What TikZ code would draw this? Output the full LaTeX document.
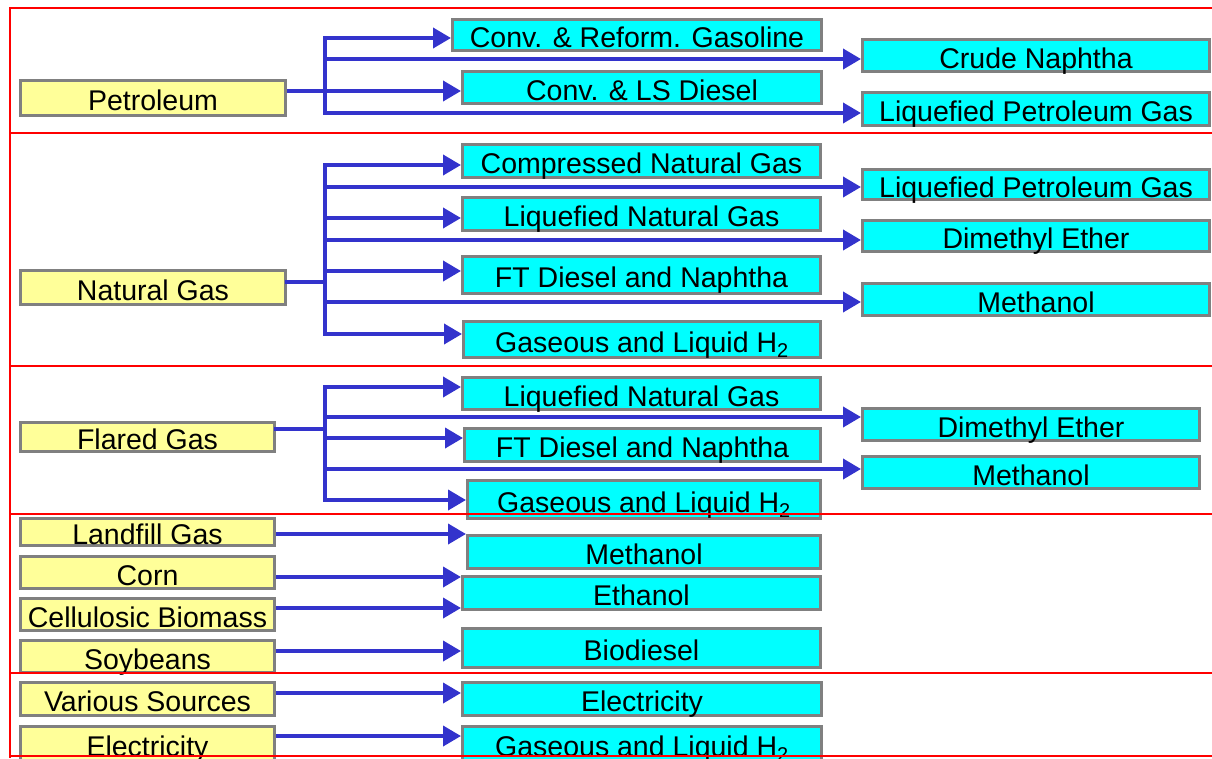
\documentclass[tikz,border=0pt]{standalone}
\usepackage{fontspec}
\setmainfont{Liberation Sans}
\usetikzlibrary{arrows.meta}

\definecolor{srcyellow}{RGB}{255,255,153}
\definecolor{prodcyan}{RGB}{0,255,255}
\definecolor{boxgray}{RGB}{128,128,128}
\definecolor{flowblue}{RGB}{51,51,204}

\begin{document}
\begin{tikzpicture}
[x=1pt, y=-1pt,
src/.style ={rectangle, draw=boxgray, line width=3pt, fill=srcyellow,
inner xsep=0pt, inner ysep=0pt, text height=25pt, text depth=0pt,
font=\fontsize{28.5}{30}\selectfont},
prod/.style ={src, fill=prodcyan},
trunk/.style ={draw=flowblue, line width=3.8pt, line cap=rect},
flow/.style ={draw=flowblue, line width=3.8pt, -{Triangle[length=18pt 0 0, width=20pt 0]}},
frame/.style ={draw=red, line width=2.2pt}]

\clip (0,0) rectangle (1212,758);

% petroleum
\node (pet) [src, minimum width=265, minimum height=35] at (153,98) {Petroleum};
\node (crg) [prod, minimum width=369, minimum height=31] at (637,35) {Conv. \& Reform. Gasoline};
\node (lsd) [prod, minimum width=359, minimum height=32] at (642,87.5) {Conv. \& LS Diesel};
\node (crude) [prod, minimum width=347, minimum height=32] at (1036,55.5) {Crude Naphtha};
\node (lpg1) [prod, minimum width=347, minimum height=33] at (1036,109) {Liquefied Petroleum Gas};

% natural gas
\node (ng) [src, minimum width=265, minimum height=34] at (153,287.5) {Natural Gas};
\node (cng) [prod, minimum width=358, minimum height=33] at (641.5,161) {Compressed Natural Gas};
\node (lng1) [prod, minimum width=358, minimum height=33] at (641.5,214) {Liquefied Natural Gas};
\node (ftd1) [prod, minimum width=358, minimum height=37] at (641.5,275) {FT Diesel and Naphtha};
\node (hyd1) [prod, minimum width=357, minimum height=36] at (642,339.5) {Gaseous and Liquid H\textsubscript{2}};
\node (lpg2) [prod, minimum width=347, minimum height=30] at (1036,184.5) {Liquefied Petroleum Gas};
\node (dme1) [prod, minimum width=347, minimum height=31] at (1036,236) {Dimethyl Ether};
\node (meth1) [prod, minimum width=347, minimum height=32] at (1036,299.5) {Methanol};

% flared gas
\node (fg) [src, minimum width=254, minimum height=29] at (147.5,437) {Flared Gas};
\node (lng2) [prod, minimum width=358, minimum height=32] at (641.5,393.5) {Liquefied Natural Gas};
\node (ftd2) [prod, minimum width=356, minimum height=33] at (642.5,445) {FT Diesel and Naphtha};
\node (hyd2) [prod, minimum width=353, minimum height=38] at (644,499.5) {Gaseous and Liquid H\textsubscript{2}};
\node (dme2) [prod, minimum width=337, minimum height=32] at (1031,424.5) {Dimethyl Ether};
\node (meth2) [prod, minimum width=337, minimum height=32] at (1031,472.5) {Methanol};

% renewables
\node (lf) [src, minimum width=254, minimum height=27] at (147.5,532) {Landfill Gas};
\node (corn) [src, minimum width=254, minimum height=32] at (147.5,572.5) {Corn};
\node (cell) [src, minimum width=254, minimum height=32] at (147.5,614.5) {Cellulosic Biomass};
\node (soy) [src, minimum width=254, minimum height=32] at (147.5,656.5) {Soybeans};
\node (meth3) [prod, minimum width=353, minimum height=33] at (644,552) {Methanol};
\node (eth) [prod, minimum width=358, minimum height=33] at (641.5,593) {Ethanol};
\node (bio) [prod, minimum width=358, minimum height=39] at (641.5,648) {Biodiesel};

% electricity
\node (var) [src, minimum width=254, minimum height=33] at (147.5,699) {Various Sources};
\node (elec1) [src, minimum width=254, minimum height=34] at (147.5,743.5) {Electricity};
\node (elec2) [prod, minimum width=359, minimum height=33] at (642,699) {Electricity};
\node (hyd3) [prod, minimum width=359, minimum height=34] at (642,743.5) {Gaseous and Liquid H\textsubscript{2}};

% petroleum paths
\coordinate (p1) at (325,38);
\coordinate (p2) at (325,59);
\coordinate (p3) at (325,91);
\coordinate (p4) at (325,113);
\draw[trunk] (p1) -- (p4);
\draw[flow] (pet.east |- p3) -- (p3 -| lsd.west);
\draw[flow] (p1) -- (p1 -| crg.west);
\draw[flow] (p2) -- (p2 -| crude.west);
\draw[flow] (p4) -- (p4 -| lpg1.west);

% natural gas paths
\coordinate (n0) at (325,282);
\coordinate (n1) at (325,165);
\coordinate (n2) at (325,187);
\coordinate (n3) at (325,218);
\coordinate (n4) at (325,240);
\coordinate (n5) at (325,271);
\coordinate (n6) at (325,302);
\coordinate (n7) at (325,334);
\draw[trunk] (n1) -- (n7);
\draw[trunk] (ng.east |- n0) -- (n0);
\draw[flow] (n1) -- (n1 -| cng.west);
\draw[flow] (n2) -- (n2 -| lpg2.west);
\draw[flow] (n3) -- (n3 -| lng1.west);
\draw[flow] (n4) -- (n4 -| dme1.west);
\draw[flow] (n5) -- (n5 -| ftd1.west);
\draw[flow] (n6) -- (n6 -| meth1.west);
\draw[flow] (n7) -- (n7 -| hyd1.west);

% flared gas paths
\coordinate (f0) at (325,429);
\coordinate (f1) at (325,387);
\coordinate (f2) at (325,417);
\coordinate (f3) at (325,438);
\coordinate (f4) at (325,469);
\coordinate (f5) at (325,500);
\draw[trunk] (f1) -- (f5);
\draw[trunk] (fg.east |- f0) -- (f0);
\draw[flow] (f1) -- (f1 -| lng2.west);
\draw[flow] (f2) -- (f2 -| dme2.west);
\draw[flow] (f3) -- (f3 -| ftd2.west);
\draw[flow] (f4) -- (f4 -| meth2.west);
\draw[flow] (f5) -- (f5 -| hyd2.west);

% straight paths
\coordinate (s1) at (300,534);
\coordinate (s2) at (300,577);
\coordinate (s3) at (300,608);
\coordinate (s4) at (300,651);
\coordinate (s5) at (300,693);
\coordinate (s6) at (300,736);
\draw[flow] (lf.east |- s1) -- (s1 -| meth3.west);
\draw[flow] (corn.east |- s2) -- (s2 -| eth.west);
\draw[flow] (cell.east |- s3) -- (s3 -| eth.west);
\draw[flow] (soy.east |- s4) -- (s4 -| bio.west);
\draw[flow] (var.east |- s5) -- (s5 -| elec2.west);
\draw[flow] (elec1.east |- s6) -- (s6 -| hyd3.west);

% frame
\draw[frame] (1212,8) -- (10,8) -- (10,758);
\draw[frame] (10,133) -- (1212,133);
\draw[frame] (10,366) -- (1212,366);
\draw[frame] (10,514) -- (1212,514);
\draw[frame] (10,673) -- (1212,673);
\draw[frame] (10,756) -- (1212,756);
\end{tikzpicture}
\end{document}
